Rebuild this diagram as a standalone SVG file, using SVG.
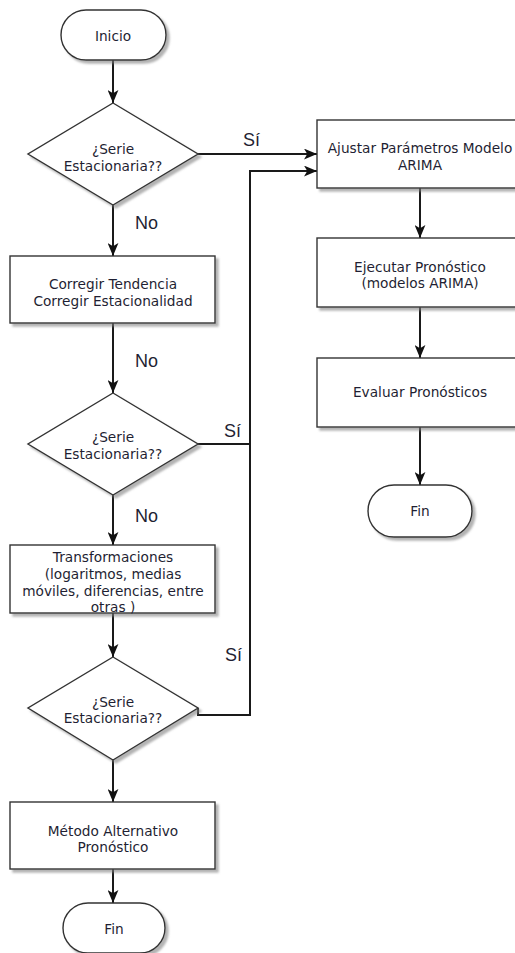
<svg xmlns="http://www.w3.org/2000/svg" width="515" height="953" viewBox="0 0 515 953">
  <defs>
    <filter id="shadow" x="-10%" y="-10%" width="130%" height="140%">
      <feDropShadow dx="3" dy="3" stdDeviation="1.2" flood-color="#808080" flood-opacity="0.6"/>
    </filter>
    <marker id="arrow" viewBox="0 0 12 10" refX="12" refY="5" markerWidth="13" markerHeight="11" markerUnits="userSpaceOnUse" orient="auto">
      <path d="M0,0 L12,5 L0,10 L3,5 z" fill="#111"/>
    </marker>
    <style>
      .shape { fill: #fff; stroke: #333; stroke-width: 1.4; filter: url(#shadow); }
      .txt { font-family: "DejaVu Sans", Verdana, sans-serif; font-size: 13.7px; fill: #1f1f33; text-anchor: middle; }
      .lbl { font-family: "Liberation Sans", Arial, sans-serif; font-size: 18px; fill: #1f1f33; }
      .edge { fill: none; stroke: #1a1a1a; stroke-width: 2; }
      .edge.arr { marker-end: url(#arrow); }
    </style>
  </defs>

  <!-- connectors -->
  <g id="connectors">
    <path class="edge arr" d="M113,60 V103"/>
    <path class="edge arr" d="M113,205 V256"/>
    <path class="edge arr" d="M113,323 V393"/>
    <path class="edge arr" d="M113,495 V545"/>
    <path class="edge arr" d="M113,613 V657"/>
    <path class="edge arr" d="M113,760 V802"/>
    <path class="edge arr" d="M113,869 V903"/>
    <path class="edge arr" d="M198,154 H317"/>
    <path class="edge arr" d="M198,444 H250 V171 H317"/>
    <path class="edge" d="M198,708 V715 H250 V444"/>
    <path class="edge arr" d="M420,188 V238"/>
    <path class="edge arr" d="M420,307 V358"/>
    <path class="edge arr" d="M420,427 V485"/>
    <text class="lbl" x="243" y="146">Sí</text>
    <text class="lbl" x="135" y="229">No</text>
    <text class="lbl" x="135" y="367">No</text>
    <text class="lbl" x="224" y="437">Sí</text>
    <text class="lbl" x="135" y="522">No</text>
    <text class="lbl" x="225" y="661">Sí</text>
  </g>

  <g id="inicio">
    <rect class="shape" x="61" y="10" width="105" height="50" rx="25"/>
    <text class="txt" x="113" y="41">Inicio</text>
  </g>

  <g id="decision1">
    <polygon class="shape" points="113,103 198,154 113,205 28,154"/>
    <text class="txt" x="113" y="154">¿Serie</text>
    <text class="txt" x="113" y="171">Estacionaria??</text>
  </g>

  <g id="corregir">
    <rect class="shape" x="10" y="256" width="205" height="67"/>
    <text class="txt" x="113" y="289">Corregir Tendencia</text>
    <text class="txt" x="113" y="306">Corregir Estacionalidad</text>
  </g>

  <g id="decision2">
    <polygon class="shape" points="113,393 198,444 113,495 28,444"/>
    <text class="txt" x="113" y="442">¿Serie</text>
    <text class="txt" x="113" y="459">Estacionaria??</text>
  </g>

  <g id="transformaciones">
    <rect class="shape" x="10" y="545" width="205" height="68"/>
    <text class="txt" x="113" y="562">Transformaciones</text>
    <text class="txt" x="113" y="579">(logaritmos, medias</text>
    <text class="txt" x="113" y="596">móviles, diferencias, entre</text>
    <text class="txt" x="113" y="612">otras )</text>
  </g>

  <g id="decision3">
    <polygon class="shape" points="113,657 198,708 113,760 28,708"/>
    <text class="txt" x="113" y="707">¿Serie</text>
    <text class="txt" x="113" y="723">Estacionaria??</text>
  </g>

  <g id="alternativo">
    <rect class="shape" x="10" y="802" width="205" height="67"/>
    <text class="txt" x="113" y="836">Método Alternativo</text>
    <text class="txt" x="113" y="852">Pronóstico</text>
  </g>

  <g id="fin1">
    <rect class="shape" x="63" y="903" width="102" height="50" rx="25"/>
    <text class="txt" x="114" y="934">Fin</text>
  </g>

  <g id="ajustar">
    <rect class="shape" x="317" y="120" width="206" height="68"/>
    <text class="txt" x="420" y="153">Ajustar Parámetros Modelo</text>
    <text class="txt" x="420" y="170">ARIMA</text>
  </g>

  <g id="ejecutar">
    <rect class="shape" x="317" y="238" width="206" height="69"/>
    <text class="txt" x="420" y="272">Ejecutar Pronóstico</text>
    <text class="txt" x="420" y="288">(modelos ARIMA)</text>
  </g>

  <g id="evaluar">
    <rect class="shape" x="317" y="358" width="206" height="69"/>
    <text class="txt" x="420" y="397">Evaluar Pronósticos</text>
  </g>

  <g id="fin2">
    <rect class="shape" x="368" y="485" width="104" height="52" rx="26"/>
    <text class="txt" x="420" y="516">Fin</text>
  </g>
</svg>
